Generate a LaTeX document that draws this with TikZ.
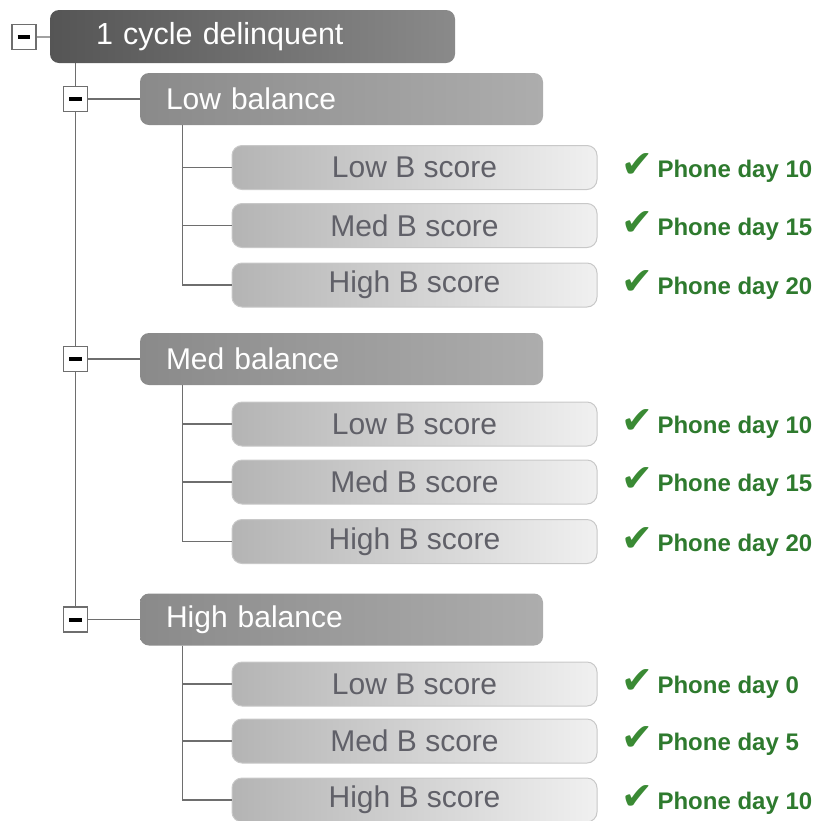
\documentclass[tikz,border=0pt]{standalone}
\usepackage{fontspec}
\setmainfont{Liberation Sans}
\newfontfamily\tickfont{DejaVu Sans}
\usetikzlibrary{positioning,calc,backgrounds}

\definecolor{connline}{HTML}{6E6E6E}
\definecolor{rootleft}{HTML}{555555}
\definecolor{rootright}{HTML}{8A8A8A}
\definecolor{balleft}{HTML}{8A8A8A}
\definecolor{balright}{HTML}{ADADAD}
\definecolor{scoreleft}{HTML}{B4B4B4}
\definecolor{scoreright}{HTML}{F0F0F0}
\definecolor{scoreline}{HTML}{C8C8C8}
\definecolor{scoretext}{HTML}{606068}
\definecolor{phonegreen}{HTML}{2E7A2E}
\definecolor{tickgreen}{HTML}{3A8A34}

\newcommand\minusbar{\rule{13pt}{4pt}}

\tikzset{
  conn/.style={draw=connline, line width=1.3pt},
  minusbox/.style={draw=connline, fill=white, line width=1.2pt, inner sep=0pt,
    minimum width=24pt, minimum height=25pt},
  rootbox/.style={rounded corners=9pt, left color=rootleft, right color=rootright,
    text=white, minimum height=53pt, inner xsep=46pt, text width=313pt, align=left,
    font=\fontsize{30.5}{33}\selectfont},
  balbox/.style={rounded corners=9pt, left color=balleft, right color=balright,
    text=white, minimum height=52pt, inner xsep=26pt, text width=351pt, align=left,
    font=\fontsize{30}{33}\selectfont},
  scorebox/.style={rounded corners=10pt, left color=scoreleft, right color=scoreright,
    draw=scoreline, line width=1pt, text=scoretext, minimum width=365pt,
    minimum height=44pt, font=\fontsize{30}{33}\selectfont},
  phone/.style={text=phonegreen, inner sep=0pt, font=\bfseries\fontsize{24}{26}\selectfont}
}

\begin{document}
\begin{tikzpicture}[x=1pt,y=-1pt]
\useasboundingbox (0,0) rectangle (825,820);
\node[rootbox] (root) at (252.5,36.5) {1 cycle delinquent};
\node[minusbox] (mroot) at (24,37) {\minusbar};
\draw[conn] (mroot) -- (root);

\node[balbox] (low) at (341.5,99) {Low balance};
\node[balbox] (med) at (341.5,359) {Med balance};
\node[balbox] (high) at (341.5,619.5) {High balance};

\foreach \n/\y/\t/\d in {lowa/167.5/Low B score/10, lowb/225.5/Med B score/15,
    lowc/285/High B score/20, meda/424/Low B score/10, medb/482/Med B score/15,
    medc/541.5/High B score/20, higha/684/Low B score/0, highb/741/Med B score/5,
    highc/800/High B score/10} {
  \node[scorebox] (\n) at (414.5,\y) {\t};
  \node[phone, right=24pt of \n] (\n-ph) {{\tickfont\color{tickgreen}\fontsize{38}{38}\selectfont ✔}\,Phone day \d};
}

\foreach \g in {low,med,high} {
  \node[minusbox] (m\g) at ($(\g.west)+(-64,0)$) {\minusbar};
  \draw[conn] (m\g) -- (\g);
  \coordinate (\g-sp) at ($(\g.south west)+(43,0)$);
  \foreach \k in {a,b,c}
    \draw[conn] (\g-sp) |- (\g\k.west);
}

\begin{scope}[on background layer]
\draw[conn] (root.south -| mlow) -- (mhigh);
\end{scope}
\end{tikzpicture}
\end{document}
